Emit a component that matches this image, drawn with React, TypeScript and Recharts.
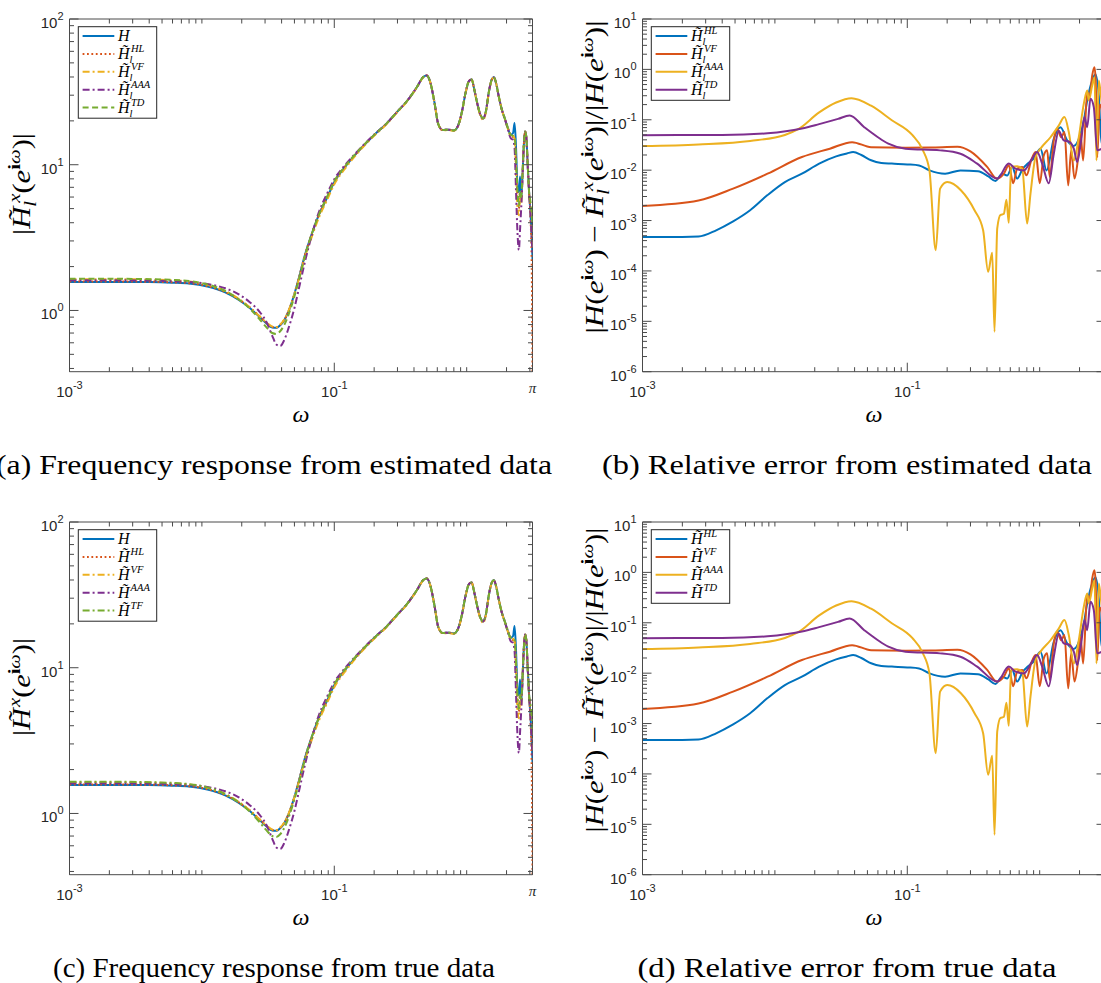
import React from "react";
import { LineChart, Line, XAxis, YAxis, ReferenceLine } from "recharts";

// MATLAB default line colours
const BLUE = "#0072BD";
const RED = "#D95319";
const YELLOW = "#EDB120";
const PURPLE = "#7E2F8E";
const GREEN = "#77AC30";
const AXIS = "#4a4a4a";
const INK = "#262626";
const SANS = "'Liberation Sans', Arial, Helvetica, sans-serif";
const SERIF = "'Liberation Serif', 'Times New Roman', serif";

const DOT = "1.8 2.6";
const DASHDOT = "7 3 2 3";
const DASH = "6 3.5";

// ---------- magnitude responses |H(e^{iw})| ----------
const wResp = [
  0.001, 0.002, 0.004, 0.006, 0.008, 0.011, 0.015, 0.019, 0.023, 0.027, 0.031, 0.034, 0.0365, 0.039, 0.042,
  0.045, 0.05, 0.055, 0.06, 0.068, 0.077, 0.088, 0.1, 0.12, 0.15, 0.2, 0.25, 0.3, 0.35, 0.42, 0.47, 0.5, 0.53,
  0.57, 0.61, 0.66, 0.73, 0.8, 0.86, 0.92, 0.98, 1.04, 1.09, 1.14, 1.2, 1.27, 1.33, 1.4, 1.47, 1.54, 1.6, 1.66,
  1.74, 1.84, 1.95, 2.05, 2.15, 2.24, 2.3, 2.36, 2.42, 2.48, 2.53, 2.58, 2.64, 2.7, 2.76, 2.82, 2.89, 2.96, 3.04,
  3.1, 3.1416,
];
const magH = [
  1.57, 1.57, 1.565, 1.55, 1.53, 1.46, 1.33, 1.18, 1.04, 0.91, 0.81, 0.765, 0.76, 0.79, 0.86,
  0.98, 1.3, 1.78, 2.4, 3.4, 4.6, 5.9, 7.6, 9.6, 12.2, 16, 19.3, 23.2, 27, 34, 40, 41, 37,
  27, 19, 17.3, 17.4, 17.2, 18.5, 23, 31, 37.5, 38.5, 33, 26.5, 22, 20.8, 23.5, 31.5, 38, 39.8, 37,
  30, 24, 20.5, 17.8, 16, 16.5, 19.3, 13, 7, 6.5, 8.3, 5.8, 8.5, 13.5, 16.9, 15.5, 10, 6.5, 4.5,
  3.2, 2.25,
];
const magHL = [
  1.58, 1.58, 1.575, 1.56, 1.54, 1.47, 1.34, 1.19, 1.05, 0.92, 0.82, 0.77, 0.765, 0.795, 0.865,
  0.985, 1.3, 1.78, 2.4, 3.4, 4.6, 5.9, 7.6, 9.6, 12.2, 16, 19.3, 23.2, 27, 34, 40, 41, 37,
  27, 19, 17.3, 17.4, 17.2, 18.5, 23, 31, 37.5, 38.5, 33, 26.5, 22, 20.8, 23.5, 31.5, 38, 39.8, 37,
  30, 24, 20.5, 17.8, 16, 15.5, 15.5, 10, 6, 5, 6.5, 6, 8.5, 13.5, 16.9, 15.5, 10, 6.5, 4.2,
  2.0, 0.38,
];
const magVF = [
  1.64, 1.64, 1.63, 1.61, 1.58, 1.5, 1.36, 1.2, 1.05, 0.92, 0.82, 0.775, 0.77, 0.8, 0.87,
  0.99, 1.29, 1.74, 2.32, 3.25, 4.4, 5.7, 7.35, 9.35, 12.0, 15.8, 19.1, 23, 26.8, 33.8, 39.8, 41, 37,
  27, 19, 17.2, 17.3, 17.1, 18.3, 22.8, 30.8, 37.3, 38.4, 33, 26.3, 21.7, 20.3, 23.2, 31.2, 37.8, 39.7, 37,
  30, 24, 20.3, 17.6, 15.8, 15.8, 15, 9, 5, 4.5, 6, 5.5, 8.5, 13.5, 16.9, 15.5, 10, 6.5, 4.6,
  3.4, 2.6,
];
const magAAA = [
  1.61, 1.61, 1.605, 1.59, 1.57, 1.52, 1.42, 1.29, 1.14, 0.99, 0.82, 0.67, 0.585, 0.57, 0.63,
  0.75, 1.04, 1.52, 2.15, 3.35, 4.8, 6.3, 7.95, 9.9, 12.4, 16.1, 19.3, 23.2, 27, 34, 40, 41, 37,
  27, 19, 17.3, 17.4, 17.2, 18.5, 23, 31, 37.5, 38.5, 33, 26.5, 22, 20.8, 23.5, 31.5, 38, 39.8, 37,
  30, 24, 20.3, 17.5, 15.2, 14.8, 13, 6.5, 3.4, 2.6, 3.6, 5, 8, 13.5, 16.9, 15.5, 10, 6.5, 4.4,
  3.1, 2.4,
];
const magTD = [
  1.65, 1.65, 1.64, 1.62, 1.59, 1.51, 1.36, 1.19, 1.03, 0.88, 0.76, 0.7, 0.69, 0.72, 0.8,
  0.93, 1.25, 1.72, 2.35, 3.4, 4.6, 6.0, 7.7, 9.7, 12.3, 16, 19.3, 23.2, 27, 34, 40, 41, 37,
  27, 19, 17.3, 17.4, 17.2, 18.5, 23, 31, 37.5, 38.5, 33, 26.5, 22, 20.8, 23.5, 31.5, 38, 39.8, 37,
  30, 24, 20.5, 17.8, 16, 15.8, 15.5, 11, 6.5, 5.2, 6.5, 6, 8.5, 13.5, 16.9, 15.5, 10, 6.5, 5.5,
  4.6, 3.8,
];

// ---------- relative errors ----------
const wErrHL = [
  0.001, 0.002, 0.00265, 0.0036, 0.0048, 0.0065, 0.0088, 0.0119, 0.016, 0.0216, 0.029, 0.035, 0.039, 0.045,
  0.0533, 0.0637, 0.0764, 0.1, 0.1228, 0.147, 0.193, 0.252, 0.342, 0.41, 0.464, 0.521, 0.568, 0.62, 0.676,
  0.745, 0.813, 0.9, 1.014, 1.126, 1.278, 1.436, 1.613, 1.81, 2.033, 2.16, 2.285, 2.492, 2.64, 2.795, 2.93,
  3.1416,
];
const errHL = [
  4.7e-4, 4.7e-4, 4.8e-4, 6.4e-4, 9.5e-4, 1.6e-3, 3.2e-3, 5.8e-3, 8.5e-3, 1.35e-2, 1.88e-2, 2.15e-2, 2.29e-2,
  2.0e-2, 1.57e-2, 1.39e-2, 1.35e-2, 1.3e-2, 1.24e-2, 9.9e-3, 8.5e-3, 9.9e-3, 9.5e-3, 7.5e-3, 6.1e-3, 8.5e-3,
  7.8e-3, 1.16e-2, 6.8e-3, 1.07e-2, 1.35e-2, 1.7e-2, 2.67e-2, 9.9e-3, 4.2e-2, 7.13e-2, 3.9e-2, 3.0e-2,
  5.28e-2, 0.1, 0.24, 0.6, 0.8, 0.3, 0.034, 0.05,
];
const wErrVF = [
  0.001, 0.00265, 0.00483, 0.0088, 0.016, 0.026, 0.0383, 0.0533, 0.0969, 0.15, 0.239, 0.3, 0.401, 0.476,
  0.536, 0.584, 0.631, 0.676, 0.738, 0.795, 0.863, 0.93, 1.002, 1.074, 1.139, 1.192, 1.278, 1.356, 1.453,
  1.539, 1.642, 1.73, 1.832, 1.94, 2.033, 2.13, 2.285, 2.39, 2.492, 2.594, 2.653, 2.719, 2.843, 3.1416,
];
const errVF = [
  1.95e-3, 2.5e-3, 4.3e-3, 8.5e-3, 1.82e-2, 2.67e-2, 3.6e-2, 2.86e-2, 2.8e-2, 2.82e-2, 2.9e-2, 2.35e-2,
  1.16e-2, 6.8e-3, 8.5e-3, 1.25e-2, 5.5e-3, 1.07e-2, 1.16e-2, 7.9e-3, 1.56e-2, 2.29e-2, 5.5e-3, 1.97e-2,
  2.47e-2, 7.3e-3, 3.9e-2, 6.68e-2, 4.5e-2, 5.7e-2, 5.0e-3, 2.47e-2, 6.8e-3, 1.56e-2, 5.28e-2, 1.56e-2,
  0.352, 0.3, 0.75, 1.1, 0.55, 0.018, 0.2, 0.05,
];
const wErrAAA = [
  0.001, 0.00265, 0.0065, 0.0119, 0.015, 0.0216, 0.029, 0.0379, 0.0533, 0.0764, 0.109, 0.131, 0.147, 0.164,
  0.177, 0.2, 0.254, 0.322, 0.374, 0.408, 0.438, 0.456, 0.478, 0.506, 0.536, 0.561, 0.584, 0.609, 0.676,
  0.738, 0.804, 0.852, 0.93, 1.014, 1.207, 1.394, 1.539, 1.659, 1.81, 1.974, 2.153, 2.285, 2.349, 2.492,
  2.594, 2.685, 2.795, 2.93, 3.1416,
];
const errAAA = [
  0.03, 0.0324, 0.038, 0.05, 0.065, 0.14, 0.22, 0.268, 0.19, 0.098, 0.05, 0.025, 0.0099, 2.58e-4, 4.3e-3,
  5.8e-3, 4.0e-3, 1.6e-3, 6.4e-4, 9.6e-5, 2.3e-4, 6.2e-6, 7e-4, 1.3e-3, 1.35e-3, 2.6e-3, 9e-4, 0.0116, 0.012,
  0.0107, 8.7e-4, 3.4e-3, 0.0182, 0.0267, 0.045, 0.077, 0.113, 0.057, 0.0156, 0.045, 0.207, 0.38, 0.24,
  0.478, 0.7, 0.0156, 0.6, 0.24, 0.1,
];
const wErrTD = [
  0.001, 0.004, 0.0088, 0.016, 0.0216, 0.03, 0.0367, 0.0473, 0.06, 0.0719, 0.0969, 0.177, 0.252, 0.337,
  0.478, 0.584, 0.656, 0.759, 0.878, 0.957, 1.044, 1.171, 1.278, 1.394, 1.52, 1.659, 1.81, 1.92, 2.058, 2.18,
  2.285, 2.419, 2.563, 2.719, 3.1416,
];
const errTD = [
  0.0495, 0.05, 0.054, 0.067, 0.082, 0.104, 0.1216, 0.0713, 0.045, 0.0335, 0.0267, 0.0247, 0.0212, 0.0135,
  6.8e-3, 0.0135, 0.0107, 0.0099, 0.0171, 0.0229, 0.0135, 5.5e-3, 0.0212, 0.06, 0.039, 0.037, 0.0267, 0.0145,
  0.039, 0.113, 0.0713, 0.26, 0.178, 0.0247, 0.03,
];

// ---------- axes ----------
const W_MIN = 0.001;
const W_MAX = Math.PI;
const xMajor = [0.001, 0.1, Math.PI];
const xMajorText = ["-3", "-1", "π"];
const respDomain = [0.38, 100];
const respMajor = [1, 10, 100];
const respMajorExp = ["0", "1", "2"];
const errDomain = [1e-6, 10];
const errMajor = [1e-6, 1e-5, 1e-4, 1e-3, 1e-2, 1e-1, 1, 10];
const errMajorExp = ["-6", "-5", "-4", "-3", "-2", "-1", "0", "1"];

const captions = [
  "(a) Frequency response from estimated data",
  "(b) Relative error from estimated data",
  "(c) Frequency response from true data",
  "(d) Relative error from true data",
];
const captionWidths = [556, 490, 442, 419];

// log-decade tick positions (1..9 × 10^e)
const decadeTicks = (lo: number, hi: number) => {
  const out: number[] = [];
  for (let e = lo; e < hi; e++) for (let m = 1; m < 10; m++) out.push(m * Math.pow(10, e));
  out.push(Math.pow(10, hi));
  return out;
};
const xTicks = [...decadeTicks(-3, 0), 2, 3, Math.PI];
const respTicks = [0.4, 0.5, 0.6, 0.7, 0.8, 0.9, ...decadeTicks(0, 2)];
const errTicks = decadeTicks(-6, 1);

const majorIndex = (list: number[], v: number) =>
  list.findIndex((m) => Math.abs(Math.log10(m) - Math.log10(v)) < 1e-6);

// ---------- layout ----------
const CW = 560;
const CHART_H = 440;
const DIV_H = 500;
// 1px axis bands are part of the offsets: plot box = [69.5, 532.5] x [19, 371.7]
const M = { top: 19, left: 68.5, right: 27.5, bottom: 67.3 };
const PLOT_L = 69.5;
const PW = 463;
const PH = 352.7;
const MAJ = 9;
const MIN = 4.5;
const TICK_FS = 15;
const TICK_SUP = 11;

type Seg = { t: string; lvl?: number; it?: boolean; bold?: boolean; dx?: number };

function tspans(segs: Seg[], size: number, small: number, up: number, down: number) {
  let cur = 0;
  const off = (l: number) => (l === 1 ? -up : l === -1 ? down : 0);
  return segs.map((s, i) => {
    const lvl = s.lvl ?? 0;
    const dy = off(lvl) - off(cur);
    cur = lvl;
    return (
      <tspan
        key={i}
        dy={dy !== 0 ? dy : undefined}
        dx={s.dx}
        fontSize={lvl ? small : size}
        fontStyle={s.it ? "italic" : "normal"}
        fontWeight={s.bold ? "bold" : "normal"}
      >
        {s.t}
      </tspan>
    );
  });
}

const powLabel = (exp: string): Seg[] => [{ t: "10" }, { t: exp, lvl: 1 }];

const XTick = (p: any) => {
  const { x, y, payload } = p;
  const k = majorIndex(xMajor, payload.value);
  const len = k >= 0 ? MAJ : MIN;
  const top = y - PH;
  let label: React.ReactNode = null;
  if (k >= 0) {
    const txt = xMajorText[k];
    label =
      txt === "π" ? (
        <text x={x} y={y + 21} textAnchor="middle" fontFamily={SERIF} fontStyle="italic" fontSize={15} fill={INK}>
          π
        </text>
      ) : (
        <text x={x} y={y + 25.5} textAnchor="middle" fontFamily={SANS} fill={INK}>
          {tspans(powLabel(txt), TICK_FS, TICK_SUP, 8, 0)}
        </text>
      );
  }
  return (
    <g>
      <line x1={x} x2={x} y1={y} y2={y - len} stroke={AXIS} strokeWidth={1} />
      <line x1={x} x2={x} y1={top} y2={top + len} stroke={AXIS} strokeWidth={1} />
      {label}
    </g>
  );
};

const makeYTick = (majors: number[], exps: string[]) => (p: any) => {
  const { x, y, payload } = p;
  const k = majorIndex(majors, payload.value);
  const len = k >= 0 ? MAJ : MIN;
  const right = x + PW;
  return (
    <g>
      <line x1={x} x2={x + len} y1={y} y2={y} stroke={AXIS} strokeWidth={1} />
      <line x1={right} x2={right - len} y1={y} y2={y} stroke={AXIS} strokeWidth={1} />
      {k >= 0 && (
        <text x={x - 6} y={y + 9} textAnchor="end" fontFamily={SANS} fill={INK}>
          {tspans(powLabel(exps[k]), TICK_FS, TICK_SUP, 8, 0)}
        </text>
      )}
    </g>
  );
};
const RespYTick = makeYTick(respMajor, respMajorExp);
const ErrYTick = makeYTick(errMajor, errMajorExp);

const zip = (w: number[], v: number[]) => w.map((x, i) => ({ w: x, v: v[i] }));

type Series = { name: string; data: { w: number; v: number }[]; color: string; dash?: string };
type LegendRow = { color: string; dash?: string; label: Seg[] };

const tildeH = (sub: boolean, sup: string): Seg[] =>
  sub
    ? [{ t: "H\u0303", it: true }, { t: "l", lvl: -1, it: true }, { t: sup, lvl: 1, it: true, dx: -1.5 }]
    : [{ t: "H\u0303", it: true }, { t: sup, lvl: 1, it: true, dx: 1 }];

const expIW: Seg[] = [
  { t: "(" },
  { t: "e", it: true },
  { t: "i", lvl: 1, bold: true },
  { t: "ω", lvl: 1, it: true },
  { t: ")" },
];

function respSeries(greenName: string, greenDash: string): Series[] {
  return [
    { name: "H", data: zip(wResp, magH), color: BLUE },
    { name: "HL", data: zip(wResp, magHL), color: RED, dash: DOT },
    { name: "VF", data: zip(wResp, magVF), color: YELLOW, dash: DASHDOT },
    { name: "AAA", data: zip(wResp, magAAA), color: PURPLE, dash: DASHDOT },
    { name: greenName, data: zip(wResp, magTD), color: GREEN, dash: greenDash },
  ];
}
const errSeries: Series[] = [
  { name: "HL", data: zip(wErrHL, errHL), color: BLUE },
  { name: "VF", data: zip(wErrVF, errVF), color: RED },
  { name: "AAA", data: zip(wErrAAA, errAAA), color: YELLOW },
  { name: "TD", data: zip(wErrTD, errTD), color: PURPLE },
];

type PanelSpec = {
  left: number;
  top: number;
  kind: "resp" | "err";
  series: Series[];
  legend: LegendRow[];
  ylabel: Seg[];
  ylabelLen: number;
  ylabelMid: number;
  caption: string;
  captionLen: number;
};

function Panel({ spec }: { spec: PanelSpec }) {
  const resp = spec.kind === "resp";
  const yDomain = resp ? respDomain : errDomain;
  const rows = spec.legend.length;
  return (
    <div style={{ position: "absolute", left: spec.left, top: spec.top, width: CW, height: DIV_H }}>
      <LineChart width={CW} height={CHART_H} margin={M}>
        <XAxis
          dataKey="w"
          type="number"
          scale="log"
          domain={[W_MIN, W_MAX]}
          allowDataOverflow
          ticks={xTicks}
          interval={0}
          tickLine={false}
          tickSize={0}
          tickMargin={0}
          height={1}
          axisLine={{ stroke: AXIS, strokeWidth: 1 }}
          tick={XTick}
        />
        <YAxis
          type="number"
          scale="log"
          domain={yDomain}
          allowDataOverflow
          ticks={resp ? respTicks : errTicks}
          interval={0}
          tickLine={false}
          tickSize={0}
          tickMargin={0}
          width={1}
          axisLine={{ stroke: AXIS, strokeWidth: 1 }}
          tick={resp ? RespYTick : ErrYTick}
        />
        <ReferenceLine y={yDomain[1]} stroke={AXIS} strokeWidth={1} ifOverflow="visible" />
        <ReferenceLine x={W_MAX} stroke={AXIS} strokeWidth={1} ifOverflow="visible" />
        {spec.series.map((s) => (
          <Line
            key={s.name}
            data={s.data}
            dataKey="v"
            type="monotoneX"
            stroke={s.color}
            strokeWidth={2}
            strokeDasharray={s.dash}
            dot={false}
            activeDot={false}
            isAnimationActive={false}
          />
        ))}
      </LineChart>
      <svg
        width={CW}
        height={DIV_H}
        style={{ position: "absolute", left: 0, top: 0, pointerEvents: "none" }}
      >
        {/* legend */}
        <rect x={78.3} y={26.7} width={78.4} height={rows * 17.9 + 2} fill="#fff" stroke={INK} strokeWidth={1} />
        {spec.legend.map((r, i) => {
          const cy = 36 + i * 17.9;
          return (
            <g key={i}>
              <line x1={82.6} x2={114.3} y1={cy} y2={cy} stroke={r.color} strokeWidth={2} strokeDasharray={r.dash} />
              <text x={118} y={cy + 5} fontFamily={SERIF} fill="#000">
                {tspans(r.label, 16, 10.5, 7, 4)}
              </text>
            </g>
          );
        })}
        {/* y label */}
        <text
          transform={`translate(30,${spec.ylabelMid}) rotate(-90)`}
          textAnchor="middle"
          fontFamily={SERIF}
          fill="#000"
          textLength={spec.ylabelLen}
          lengthAdjust="spacingAndGlyphs"
        >
          {tspans(spec.ylabel, 25, 17, 10, 6)}
        </text>
        {/* x label */}
        <text x={PLOT_L + PW / 2} y={422} textAnchor="middle" fontFamily={SERIF} fontStyle="italic" fontSize={24} fill="#000">
          ω
        </text>
        {/* caption */}
        <text
          x={274}
          y={474}
          textAnchor="middle"
          fontFamily={SERIF}
          fontSize={27}
          fill="#000"
          textLength={spec.captionLen}
          lengthAdjust="spacingAndGlyphs"
        >
          {spec.caption}
        </text>
      </svg>
    </div>
  );
}

function respLegend(sub: boolean, greenSup: string, greenDash: string): LegendRow[] {
  return [
    { color: BLUE, label: [{ t: "H", it: true }] },
    { color: RED, dash: DOT, label: tildeH(sub, "HL") },
    { color: YELLOW, dash: DASHDOT, label: tildeH(sub, "VF") },
    { color: PURPLE, dash: DASHDOT, label: tildeH(sub, "AAA") },
    { color: GREEN, dash: greenDash, label: tildeH(sub, greenSup) },
  ];
}
function errLegend(sub: boolean): LegendRow[] {
  return [
    { color: BLUE, label: tildeH(sub, "HL") },
    { color: RED, label: tildeH(sub, "VF") },
    { color: YELLOW, label: tildeH(sub, "AAA") },
    { color: PURPLE, label: tildeH(sub, "TD") },
  ];
}

const respYLabel = (sub: boolean): Seg[] => [{ t: "|" }, ...tildeH(sub, "x"), ...expIW, { t: "|" }];
const errYLabel = (sub: boolean): Seg[] => [
  { t: "|" },
  { t: "H", it: true },
  ...expIW,
  { t: "−", dx: 5 },
  { t: " " },
  ...tildeH(sub, "x"),
  ...expIW,
  { t: "|/|" },
  { t: "H", it: true },
  ...expIW,
  { t: "|" },
];

const ROW2 = 503;
const COL2 = 572.5;

const panels: PanelSpec[] = [
  {
    left: 0, top: 0, kind: "resp", series: respSeries("TD", DASH), legend: respLegend(true, "TD", DASH),
    ylabel: respYLabel(true), ylabelLen: 102, ylabelMid: 184, caption: captions[0], captionLen: captionWidths[0],
  },
  {
    left: COL2, top: 0, kind: "err", series: errSeries, legend: errLegend(true),
    ylabel: errYLabel(true), ylabelLen: 313, ylabelMid: 177, caption: captions[1], captionLen: captionWidths[1],
  },
  {
    left: 0, top: ROW2, kind: "resp", series: respSeries("TF", DASHDOT), legend: respLegend(false, "TF", DASHDOT),
    ylabel: respYLabel(false), ylabelLen: 98, ylabelMid: 184, caption: captions[2], captionLen: captionWidths[2],
  },
  {
    left: COL2, top: ROW2, kind: "err", series: errSeries, legend: errLegend(false),
    ylabel: errYLabel(false), ylabelLen: 305, ylabelMid: 177, caption: captions[3], captionLen: captionWidths[3],
  },
];

export default function App() {
  return (
    <div
      style={{
        position: "absolute",
        left: 0,
        top: 0,
        width: 1101,
        height: 983,
        overflow: "hidden",
        background: "#fff",
      }}
    >
      {panels.map((p, i) => (
        <Panel key={i} spec={p} />
      ))}
    </div>
  );
}
